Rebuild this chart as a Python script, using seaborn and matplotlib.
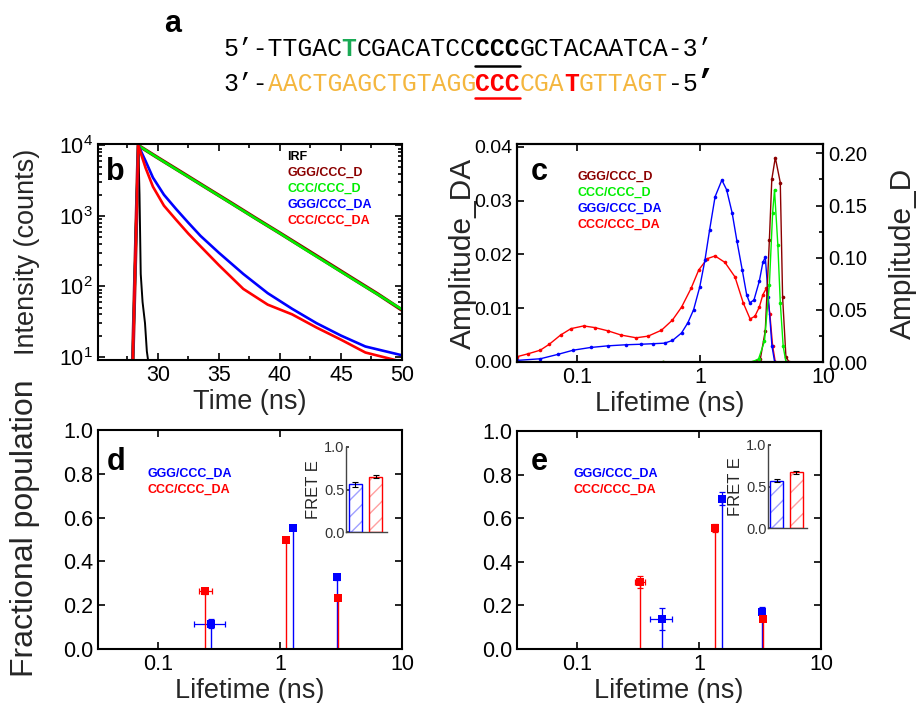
import matplotlib
matplotlib.use("Agg")
import matplotlib.pyplot as plt
from matplotlib.ticker import MultipleLocator, FixedLocator, NullLocator
from matplotlib.lines import Line2D
from matplotlib.patches import Rectangle
import pandas as pd
import seaborn as sns

# ---------------- data ----------------
# panel b: decays, time (ns) vs counts
irf_t = [27.95, 28.2, 28.4, 28.5, 28.6, 28.75, 28.95, 29.1, 29.2]
irf_c = [9, 800, 10000, 2000, 150, 60, 30, 12, 9]

donor_t = [27.95, 28.4, 30, 32, 34, 36, 38, 40, 42, 44, 46, 48, 50]
ggg_d = [9, 10000, 6700, 4100, 2500, 1530, 930, 570, 347, 211, 128, 78, 46]
ccc_d = [9, 10000, 6650, 4050, 2480, 1510, 920, 565, 340, 207, 126, 77, 47]

da_t = [27.95, 28.4, 29.0, 29.6, 30.5, 31.5, 32.5, 33.5, 35, 37, 39, 41, 43, 45, 47, 50]
ggg_da = [9, 10000, 6000, 3500, 2000, 1250, 800, 520, 300, 150, 80, 48, 30, 20, 14, 10.5]
ccc_da = [9, 10000, 4800, 2600, 1400, 880, 560, 370, 200, 92, 55, 40, 26, 17.5, 11.5, 8.5]

# panel c: lifetime distributions
red_tau = [0.033, 0.04, 0.0507, 0.06, 0.074, 0.09, 0.114, 0.14, 0.179, 0.23, 0.304, 0.38,
           0.488, 0.6, 0.711, 0.85, 0.98, 1.15, 1.33, 1.6, 1.93, 2.25, 2.56, 2.8, 3.04,
           3.25, 3.47, 3.7, 3.9, 4.1, 5.0, 10.0]
red_amp = [0.0010, 0.0015, 0.0022, 0.0033, 0.0050, 0.0062, 0.0067, 0.0064, 0.0058, 0.0050,
           0.0045, 0.0048, 0.0059, 0.0078, 0.0102, 0.0137, 0.0171, 0.0192, 0.0197, 0.0185,
           0.0158, 0.0110, 0.0080, 0.0085, 0.0102, 0.0125, 0.0137, 0.0090, 0.0030, 0.0,
           0.0, 0.0]
blue_tau = [0.033, 0.0507, 0.07, 0.094, 0.13, 0.179, 0.25, 0.334, 0.42, 0.517, 0.6, 0.711,
            0.8, 0.89, 1.0, 1.1, 1.2, 1.33, 1.51, 1.65, 1.83, 2.0, 2.21, 2.4, 2.54, 2.75,
            3.04, 3.25, 3.4, 3.6, 3.85, 4.05, 5.0, 10.0]
blue_amp = [0.0003, 0.0006, 0.0014, 0.0022, 0.0027, 0.0030, 0.0032, 0.0033, 0.0034, 0.0035,
            0.0040, 0.0054, 0.0073, 0.0097, 0.0140, 0.0189, 0.0245, 0.0307, 0.0338, 0.0320,
            0.0277, 0.0225, 0.0171, 0.0125, 0.0110, 0.0115, 0.0150, 0.0185, 0.0195, 0.0120,
            0.0030, 0.0, 0.0, 0.0]
brown_tau = [0.033, 0.5, 2.7, 3.1, 3.4, 3.67, 3.84, 4.1, 4.5, 4.7, 5.0, 5.3, 10.0]
brown_amp = [0.0, 0.0, 0.0, 0.003, 0.03, 0.117, 0.175, 0.196, 0.172, 0.062, 0.005, 0.0, 0.0]
green_tau = [0.033, 0.5, 2.65, 3.0, 3.35, 3.67, 3.9, 4.04, 4.3, 4.5, 4.75, 5.0, 10.0]
green_amp = [0.0, 0.0, 0.0, 0.003, 0.02, 0.074, 0.143, 0.165, 0.112, 0.057, 0.015, 0.0, 0.0]

# panels d, e: fractional populations
d_ggg_tau = [0.274, 1.285, 2.93]
d_ggg_frac = [0.116, 0.552, 0.327]
d_ggg_xlo = [0.077, 0, 0]
d_ggg_xhi = [0.081, 0, 0]
d_ggg_yerr = [0.02, 0.005, 0.012]
d_ccc_tau = [0.243, 1.13, 3.0]
d_ccc_frac = [0.263, 0.499, 0.233]
d_ccc_xlo = [0.025, 0, 0]
d_ccc_xhi = [0.037, 0, 0]
d_ccc_yerr = [0.012, 0.005, 0.005]

e_ggg_tau = [0.495, 1.556, 3.27]
e_ggg_frac = [0.138, 0.689, 0.172]
e_ggg_xlo = [0.10, 0, 0]
e_ggg_xhi = [0.105, 0, 0]
e_ggg_yerr = [0.05, 0.03, 0.02]
e_ccc_tau = [0.328, 1.35, 3.33]
e_ccc_frac = [0.306, 0.555, 0.137]
e_ccc_xlo = [0.028, 0, 0]
e_ccc_xhi = [0.032, 0, 0]
e_ccc_yerr = [0.027, 0.02, 0.008]

fret_names = ["GGG/CCC_DA", "CCC/CCC_DA"]
d_fret = [0.56, 0.65]
d_fret_err = [0.025, 0.015]
e_fret = [0.57, 0.67]
e_fret_err = [0.02, 0.018]

# ---------------- style ----------------
sns.set_theme(style="ticks")
plt.rcParams["font.family"] = ["Liberation Sans", "DejaVu Sans"]
plt.rcParams["mathtext.default"] = "regular"

W, H = 916, 703
fig = plt.figure(figsize=(W / 100, H / 100), dpi=100)

BROWN = "#8b0000"
GREEN = "#00ee00"
BLUE = "#0000ff"
RED = "#ff0000"
ORANGE = "#f4b63e"
TICK = 15.5
LAB = 19.5


def px_axes(x0, y0, x1, y1):
    return fig.add_axes([x0 / W, 1 - y1 / H, (x1 - x0) / W, (y1 - y0) / H])


def ptext(x, y, s, **kw):
    fig.text(x / W, 1 - y / H, s, va="baseline", ha="left", **kw)


def frame(ax, lw=1.5, size=TICK):
    for sp in ax.spines.values():
        sp.set_linewidth(lw)
        sp.set_color("black")
    ax.tick_params(which="both", direction="in", labelsize=size, width=1.2, colors="black")
    ax.tick_params(which="major", length=5)
    ax.tick_params(which="minor", length=3)


# ---------------- panel a: sequences ----------------
mono = "Liberation Mono"
fs = 17.8
adv = 0.6 * fs / 72 * 100
x0 = 223
seq1 = [("5’-TTGAC", "black", "normal"), ("T", "#1aaa55", "bold"), ("CGACATCC", "black", "normal"),
        ("CCC", "black", "bold"), ("GCTACAATCA-3’", "black", "normal")]
seq2 = [("3’-", "black", "normal"), ("AACTGAGCTGTAGG", ORANGE, "normal"), ("CCC", RED, "bold"),
        ("CGA", ORANGE, "normal"), ("T", RED, "bold"), ("GTTAGT", ORANGE, "normal"),
        ("-5", "black", "normal")]
for parts, yb in [(seq1, 56), (seq2, 91)]:
    i = 0
    for s, c, w in parts:
        ptext(x0 + i * adv, yb, s, color=c, fontweight=w, family=mono, fontsize=fs)
        i += len(s)
ptext(x0 + 32 * adv - 2, 91, "’", color="black", fontweight="bold", family=mono, fontsize=23)
for yb, c in [(65.5, "black"), (97.5, RED)]:
    fig.add_artist(Line2D([(x0 + 17 * adv) / W, (x0 + 20 * adv) / W], [1 - yb / H, 1 - yb / H],
                          color=c, lw=1.8))

# panel letters
for s, x, y in [("a", 164, 32), ("b", 106, 180), ("c", 531, 180), ("d", 107, 470), ("e", 531, 470)]:
    ptext(x, y, s, fontweight="bold", fontsize=22, color="black")

# ---------------- panel b ----------------
axb = px_axes(98, 144, 402, 360)
sns.lineplot(x=irf_t, y=irf_c, ax=axb, color="black", lw=1.4, estimator=None, sort=False)
sns.lineplot(x=donor_t, y=ggg_d, ax=axb, color=BROWN, lw=2.6, estimator=None, sort=False)
sns.lineplot(x=donor_t, y=ccc_d, ax=axb, color=GREEN, lw=1.9, estimator=None, sort=False)
sns.lineplot(x=da_t, y=ggg_da, ax=axb, color=BLUE, lw=1.9, estimator=None, sort=False)
sns.lineplot(x=da_t, y=ccc_da, ax=axb, color=RED, lw=1.9, estimator=None, sort=False)
axb.set_yscale("log")
axb.set_xlim(25.1, 50)
axb.set_ylim(9, 1.05e4)
axb.xaxis.set_major_locator(FixedLocator([30, 35, 40, 45, 50]))
axb.xaxis.set_minor_locator(MultipleLocator(2.5))
frame(axb)
axb.tick_params(which="both", top=True, right=True)
axb.set_xlabel("Time (ns)", fontsize=LAB, labelpad=2)
axb.set_ylabel("Intensity (counts)", fontsize=LAB)
axb.yaxis.set_label_coords(-0.19, 0.5)
for s, c, y in [("IRF", "black", 160), ("GGG/CCC_D", BROWN, 176), ("CCC/CCC_D", GREEN, 192),
                ("GGG/CCC_DA", BLUE, 208), ("CCC/CCC_DA", RED, 224)]:
    ptext(287, y, s, color=c, fontweight="bold", fontsize=9)

# ---------------- panel c ----------------
axc = px_axes(517, 144, 823, 362)
kw = dict(marker="o", markersize=2.6, markeredgewidth=0, lw=1.0, estimator=None, sort=False)
sns.lineplot(x=red_tau, y=red_amp, ax=axc, color=RED, **kw)
sns.lineplot(x=blue_tau, y=blue_amp, ax=axc, color=BLUE, **kw)
axc.set_xscale("log")
axc.set_xlim(0.0328, 10)
axc.set_ylim(0, 0.0405)
axc.yaxis.set_major_locator(MultipleLocator(0.01))
axc2 = axc.twinx()
sns.lineplot(x=brown_tau, y=brown_amp, ax=axc2, color=BROWN, **kw)
sns.lineplot(x=green_tau, y=green_amp, ax=axc2, color=GREEN, **kw)
axc2.set_ylim(0, 0.209)
axc2.yaxis.set_major_locator(MultipleLocator(0.05))
axc2.yaxis.set_minor_locator(MultipleLocator(0.025))
axc2.yaxis.set_major_formatter(plt.FormatStrFormatter("%.2f"))
axc.yaxis.set_major_formatter(plt.FormatStrFormatter("%.2f"))
for a in (axc, axc2):
    a.xaxis.set_major_locator(FixedLocator([0.1, 1, 10]))
    a.xaxis.set_minor_locator(NullLocator())
    a.xaxis.set_major_formatter(plt.FixedFormatter(["0.1", "1", "10"]))
    frame(a)
axc.tick_params(axis="y", labelsize=14)
axc2.tick_params(axis="y", labelsize=14.5)
axc.tick_params(which="both", top=True, right=False)
axc2.tick_params(which="both", right=True, left=False)
axc.set_xlabel("Lifetime (ns)", fontsize=LAB, labelpad=2)
axc.set_ylabel("Amplitude_DA", fontsize=21.5)
axc.yaxis.set_label_coords(-0.13, 0.5)
axc2.set_ylabel("Amplitude_D", fontsize=21.5)
axc2.yaxis.set_label_coords(1.215, 0.5)
for s, c, y in [("GGG/CCC_D", BROWN, 180), ("CCC/CCC_D", GREEN, 196),
                ("GGG/CCC_DA", BLUE, 212), ("CCC/CCC_DA", RED, 228)]:
    ptext(577, y, s, color=c, fontweight="bold", fontsize=9)


# ---------------- panels d, e ----------------
def pop_panel(ax, series, ylabel):
    for tau, frac, xlo, xhi, yerr, c in series:
        ax.vlines(tau, 0, frac, colors=c, lw=1.0)
        ax.errorbar(tau, frac, xerr=[xlo, xhi], yerr=yerr, fmt="none", ecolor=c,
                    elinewidth=0.9, capsize=2.5, capthick=0.9)
        df = pd.DataFrame({"tau": tau, "frac": frac})
        sns.scatterplot(data=df, x="tau", y="frac", ax=ax, marker="s", s=32, color=c,
                        edgecolor=c, linewidth=0, zorder=5)
    ax.set_xscale("log")
    ax.set_xlim(0.0325, 10)
    ax.set_ylim(0, 1.0)
    ax.xaxis.set_major_locator(FixedLocator([0.1, 1, 10]))
    ax.xaxis.set_minor_locator(NullLocator())
    ax.xaxis.set_major_formatter(plt.FixedFormatter(["0.1", "1", "10"]))
    ax.yaxis.set_major_locator(MultipleLocator(0.2))
    ax.yaxis.set_major_formatter(plt.FormatStrFormatter("%.1f"))
    frame(ax)
    ax.tick_params(which="both", top=True, right=True)
    ax.set_xlabel("Lifetime (ns)", fontsize=LAB, labelpad=2)
    ax.set_ylabel(ylabel, fontsize=23)
    ax.yaxis.set_label_coords(-0.19, 0.55)


def fret_inset(rect, vals, errs, lab_x):
    ax = px_axes(*rect)
    sns.barplot(x=fret_names, y=vals, ax=ax, width=0.65, color="white",
                edgecolor="#9a9aff", linewidth=0, hatch="//")
    cols = [BLUE, RED]
    hcols = ["#a0a0ff", "#ffa0a0"]
    for p, c, hc in zip(ax.patches, cols, hcols):
        p.set_edgecolor(hc)
        p.set_hatch("//")
        ax.add_patch(Rectangle((p.get_x(), 0), p.get_width(), p.get_height(),
                               fill=False, edgecolor=c, lw=1.0, zorder=3))
    ax.errorbar([0, 1], vals, yerr=errs, fmt="none", ecolor="black", elinewidth=0.8,
                capsize=2, capthick=0.8, zorder=4)
    ax.set_xlim(-0.45, 1.55)
    ax.set_ylim(0, 1.0)
    ax.set_xticks([])
    ax.set_xlabel("")
    ax.yaxis.set_major_locator(FixedLocator([0.0, 0.5, 1.0]))
    ax.yaxis.set_major_formatter(plt.FormatStrFormatter("%.1f"))
    for s in ("top", "right"):
        ax.spines[s].set_visible(False)
    for s in ("left", "bottom"):
        ax.spines[s].set_color("#444444")
        ax.spines[s].set_linewidth(1.0)
    ax.tick_params(axis="y", direction="in", length=2.5, labelsize=10.5, pad=1, colors="#333333")
    ax.set_ylabel("FRET E", fontsize=12)
    ax.yaxis.set_label_coords(lab_x, 0.5)
    ax.patch.set_alpha(0)


axd = px_axes(98, 430, 402, 649)
pop_panel(axd, [(d_ggg_tau, d_ggg_frac, d_ggg_xlo, d_ggg_xhi, d_ggg_yerr, BLUE),
                (d_ccc_tau, d_ccc_frac, d_ccc_xlo, d_ccc_xhi, d_ccc_yerr, RED)],
          "Fractional population")
ptext(148, 477, "GGG/CCC_DA", color=BLUE, fontweight="bold", fontsize=9)
ptext(148, 493, "CCC/CCC_DA", color=RED, fontweight="bold", fontsize=9)
fret_inset((346, 447, 387, 532), d_fret, d_fret_err, -0.6)

axe = px_axes(517, 431, 821, 649)
pop_panel(axe, [(e_ggg_tau, e_ggg_frac, e_ggg_xlo, e_ggg_xhi, e_ggg_yerr, BLUE),
                (e_ccc_tau, e_ccc_frac, e_ccc_xlo, e_ccc_xhi, e_ccc_yerr, RED)], "")
ptext(573, 477, "GGG/CCC_DA", color=BLUE, fontweight="bold", fontsize=9)
ptext(573, 493, "CCC/CCC_DA", color=RED, fontweight="bold", fontsize=9)
fret_inset((768, 445, 807, 528), e_fret, e_fret_err, -0.64)

fig.savefig("out.png", dpi=100)
